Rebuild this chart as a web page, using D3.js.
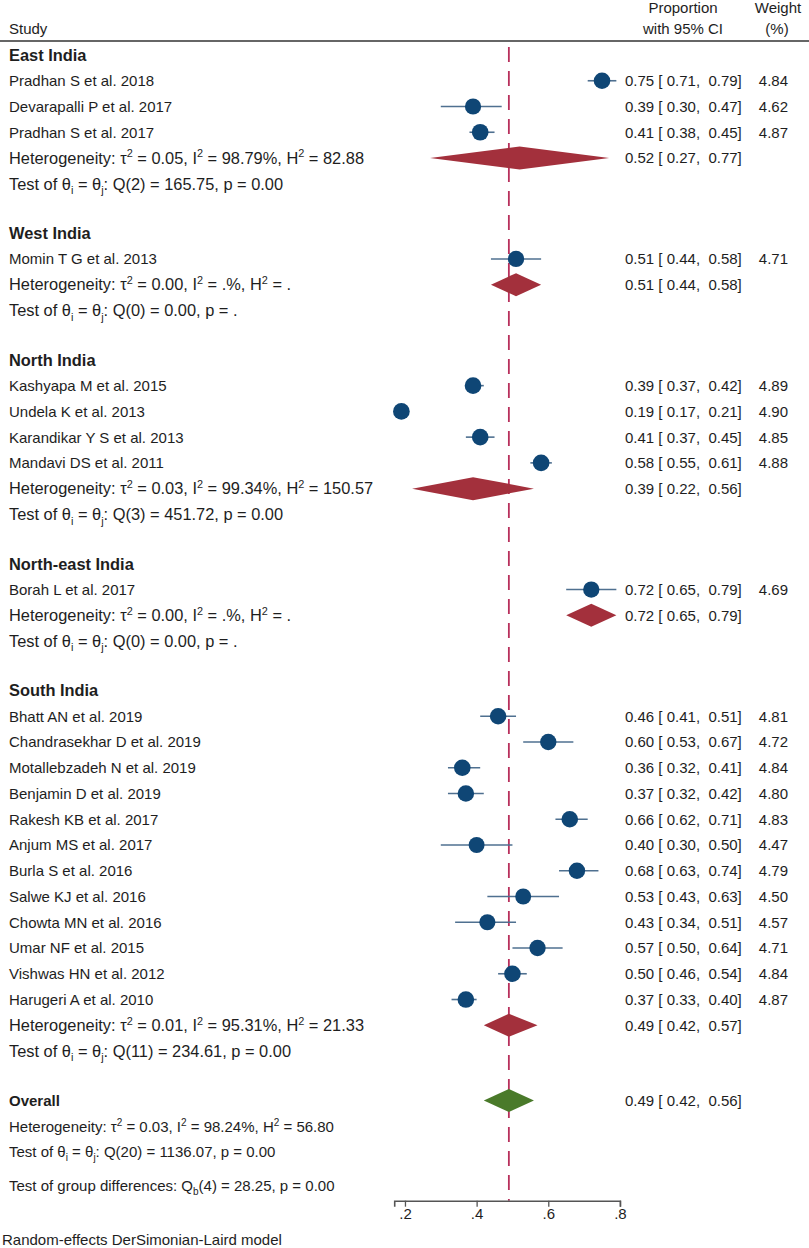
<!DOCTYPE html>
<html>
  <head>
    <meta charset="utf-8" />
    <title>Forest plot</title>
    <script src="https://d3js.org/d3.v7.min.js"></script>
    <style>
      body { margin: 0; background: #fff; }
      svg text { font-family: 'Liberation Sans', Arial, sans-serif; font-size: 15px; fill: #1e1e1e; white-space: pre; }
      svg text.big { font-size: 16.4px; }
      .bold { font-weight: bold; }
    </style>
  </head>
  <body>
    <svg width="809" height="1248"></svg>
    <script>
      // ---- data ----
      const groups = ['East India', 'West India', 'North India', 'North-east India', 'South India'];

      const studyNames = [
        'Pradhan S et al. 2018', 'Devarapalli P et al. 2017', 'Pradhan S et al. 2017',
        'Momin T G et al. 2013',
        'Kashyapa M et al. 2015', 'Undela K et al. 2013', 'Karandikar Y S et al. 2013', 'Mandavi DS et al. 2011',
        'Borah L et al. 2017',
        'Bhatt AN et al. 2019', 'Chandrasekhar D et al. 2019', 'Motallebzadeh N et al. 2019', 'Benjamin D et al. 2019',
        'Rakesh KB et al. 2017', 'Anjum MS et al. 2017', 'Burla S et al. 2016', 'Salwe KJ et al. 2016',
        'Chowta MN et al. 2016', 'Umar NF et al. 2015', 'Vishwas HN et al. 2012', 'Harugeri A et al. 2010',
      ];
      const studyGroup = [0, 0, 0, 1, 2, 2, 2, 2, 3, 4, 4, 4, 4, 4, 4, 4, 4, 4, 4, 4, 4];
      const studyEst = [0.75, 0.39, 0.41, 0.51, 0.39, 0.19, 0.41, 0.58, 0.72,
        0.46, 0.60, 0.36, 0.37, 0.66, 0.40, 0.68, 0.53, 0.43, 0.57, 0.50, 0.37];
      const studyLo = [0.71, 0.30, 0.38, 0.44, 0.37, 0.17, 0.37, 0.55, 0.65,
        0.41, 0.53, 0.32, 0.32, 0.62, 0.30, 0.63, 0.43, 0.34, 0.50, 0.46, 0.33];
      const studyHi = [0.79, 0.47, 0.45, 0.58, 0.42, 0.21, 0.45, 0.61, 0.79,
        0.51, 0.67, 0.41, 0.42, 0.71, 0.50, 0.74, 0.63, 0.51, 0.64, 0.54, 0.40];
      const studyWeight = [4.84, 4.62, 4.87, 4.71, 4.89, 4.90, 4.85, 4.88, 4.69,
        4.81, 4.72, 4.84, 4.80, 4.83, 4.47, 4.79, 4.50, 4.57, 4.71, 4.84, 4.87];

      const pooledEst = [0.52, 0.51, 0.39, 0.72, 0.49];
      const pooledLo = [0.27, 0.44, 0.22, 0.65, 0.42];
      const pooledHi = [0.77, 0.58, 0.56, 0.79, 0.57];
      const hetText = [
        'Heterogeneity: τ^{2} = 0.05, I^{2} = 98.79%, H^{2} = 82.88',
        'Heterogeneity: τ^{2} = 0.00, I^{2} = .%, H^{2} = .',
        'Heterogeneity: τ^{2} = 0.03, I^{2} = 99.34%, H^{2} = 150.57',
        'Heterogeneity: τ^{2} = 0.00, I^{2} = .%, H^{2} = .',
        'Heterogeneity: τ^{2} = 0.01, I^{2} = 95.31%, H^{2} = 21.33',
      ];
      const testText = [
        'Test of θ_{i} = θ_{j}: Q(2) = 165.75, p = 0.00',
        'Test of θ_{i} = θ_{j}: Q(0) = 0.00, p = .',
        'Test of θ_{i} = θ_{j}: Q(3) = 451.72, p = 0.00',
        'Test of θ_{i} = θ_{j}: Q(0) = 0.00, p = .',
        'Test of θ_{i} = θ_{j}: Q(11) = 234.61, p = 0.00',
      ];

      const overall = { est: 0.49, lo: 0.42, hi: 0.56 };
      const overallHet = 'Heterogeneity: τ^{2} = 0.03, I^{2} = 98.24%, H^{2} = 56.80';
      const overallTest = 'Test of θ_{i} = θ_{j}: Q(20) = 1136.07, p = 0.00';
      const groupDiffText = 'Test of group differences: Q_{b}(4) = 28.25, p = 0.00';

      const xTicks = [0.2, 0.4, 0.6, 0.8];

      // ---- layout ----
      const svg = d3.select('svg');
      const f2 = d3.format('.2f');
      const ciLabel = (e, l, h) => `${f2(e)} [ ${f2(l)},  ${f2(h)}]`;

      const xScale = d3.scaleLinear()
        .domain([d3.min(studyLo), 0.8])
        .range([333.3 + 358.3 * d3.min(studyLo), 333.3 + 358.3 * 0.8]);
      const yScale = d3.scaleLinear().domain([0, 1]).range([55, 80.75]);

      const leftX = 9;
      const ciX = 625;
      const wtX = 788;
      const axisY = 1200.7;

      // build rows (in row units)
      const rows = [];
      let pos = 0;
      groups.forEach((g, gi) => {
        rows.push({ type: 'header', text: g, pos: pos++, big: true });
        studyNames.forEach((n, i) => {
          if (studyGroup[i] === gi) rows.push({ type: 'study', i, text: n, pos: pos++ });
        });
        rows.push({ type: 'pooled', gi, text: hetText[gi], pos: pos++, big: true });
        rows.push({ type: 'note', text: testText[gi], pos: pos, big: true });
        pos += 1.92;
      });
      rows.push({ type: 'overall', text: 'Overall', pos: pos });
      rows.push({ type: 'note', text: overallHet, pos: pos + 1.03 });
      rows.push({ type: 'note', text: overallTest, pos: pos + 2.0 });
      rows.push({ type: 'note', text: groupDiffText, pos: pos + 3.3 });

      // text with ^{sup} and _{sub}
      function richText(sel, str, big) {
        const k = big ? 1.09 : 1;
        const parts = str.split(/(\^\{[^}]*\}|_\{[^}]*\})/).filter((p) => p.length);
        let shift = 0;
        parts.forEach((p) => {
          const t = sel.append('tspan');
          let target = 0;
          if (p.startsWith('^{')) { target = -6 * k; t.style('font-size', 10 * k + 'px').text(p.slice(2, -1)); }
          else if (p.startsWith('_{')) { target = 4 * k; t.style('font-size', 10 * k + 'px').text(p.slice(2, -1)); }
          else t.text(p);
          t.attr('dy', target - shift);
          shift = target;
        });
      }

      const base = (p) => yScale(p) + 5.4;

      // header
      svg.append('text').attr('x', leftX).attr('y', 33.5).text('Study');
      svg.append('text').attr('x', 683).attr('y', 12.8).attr('text-anchor', 'middle').text('Proportion');
      svg.append('text').attr('x', 683).attr('y', 33.5).attr('text-anchor', 'middle').text('with 95% CI');
      svg.append('text').attr('x', 778).attr('y', 12.8).attr('text-anchor', 'middle').text('Weight');
      svg.append('text').attr('x', 777).attr('y', 33.5).attr('text-anchor', 'middle').text('(%)');
      svg.append('line').attr('x1', 0).attr('x2', 809).attr('y1', 41).attr('y2', 41)
        .attr('stroke', '#333').attr('stroke-width', 1.3);

      // reference line at overall estimate
      svg.append('line')
        .attr('x1', xScale(overall.est)).attr('x2', xScale(overall.est))
        .attr('y1', 47).attr('y2', axisY)
        .attr('stroke', '#b8305c').attr('stroke-width', 1.8)
        .attr('stroke-dasharray', '15,9');

      // left labels
      rows.forEach((r) => {
        const t = svg.append('text').attr('x', leftX).attr('y', base(r.pos) + (r.big ? 0.4 : 0));
        const cls = [];
        if (r.type === 'header' || r.type === 'overall') cls.push('bold');
        if (r.big) cls.push('big');
        t.attr('class', cls.join(' '));
        richText(t, r.text, r.big);
      });

      // study marks
      const studyRows = rows.filter((r) => r.type === 'study');
      const g = svg.append('g');
      g.selectAll('line.ci').data(studyRows).enter().append('line')
        .attr('class', 'ci')
        .attr('x1', (d) => xScale(studyLo[d.i]))
        .attr('x2', (d) => xScale(studyHi[d.i]))
        .attr('y1', (d) => yScale(d.pos)).attr('y2', (d) => yScale(d.pos))
        .attr('stroke', '#4f7090').attr('stroke-width', 1.6);
      g.selectAll('circle').data(studyRows).enter().append('circle')
        .attr('cx', (d) => xScale(studyEst[d.i]))
        .attr('cy', (d) => yScale(d.pos))
        .attr('r', (d) => 3.77 * Math.sqrt(studyWeight[d.i]))
        .attr('fill', '#0f4675');

      svg.selectAll('text.ci').data(studyRows).enter().append('text')
        .attr('class', 'ci').attr('x', ciX).attr('y', (d) => base(d.pos))
        .text((d) => ciLabel(studyEst[d.i], studyLo[d.i], studyHi[d.i]));
      svg.selectAll('text.wt').data(studyRows).enter().append('text')
        .attr('class', 'wt').attr('x', wtX).attr('y', (d) => base(d.pos))
        .attr('text-anchor', 'end')
        .text((d) => f2(studyWeight[d.i]));

      // diamonds
      const diamond = (lo, est, hi, y) => {
        const h = 11.5;
        return `M${xScale(lo)},${y}L${xScale(est)},${y - h}L${xScale(hi)},${y}L${xScale(est)},${y + h}Z`;
      };
      const pooledRows = rows.filter((r) => r.type === 'pooled');
      svg.selectAll('path.pooled').data(pooledRows).enter().append('path')
        .attr('class', 'pooled')
        .attr('d', (d) => diamond(pooledLo[d.gi], pooledEst[d.gi], pooledHi[d.gi], yScale(d.pos)))
        .attr('fill', '#a3303c');
      svg.selectAll('text.pci').data(pooledRows).enter().append('text')
        .attr('class', 'pci').attr('x', ciX).attr('y', (d) => base(d.pos))
        .text((d) => ciLabel(pooledEst[d.gi], pooledLo[d.gi], pooledHi[d.gi]));

      const ovRow = rows.find((r) => r.type === 'overall');
      svg.append('path')
        .attr('d', diamond(overall.lo, overall.est, overall.hi, yScale(ovRow.pos)))
        .attr('fill', '#4a7a2a');
      svg.append('text').attr('x', ciX).attr('y', base(ovRow.pos))
        .text(ciLabel(overall.est, overall.lo, overall.hi));

      // x axis
      const axis = d3.axisBottom(xScale)
        .tickValues(xTicks)
        .tickSizeOuter(0)
        .tickSize(6)
        .tickFormat((v) => d3.format('.1f')(v).replace(/^0/, ''));
      const ax = svg.append('g').attr('transform', `translate(0,${axisY})`).call(axis);
      ax.select('.domain').attr('stroke', '#555').attr('stroke-width', 1.6);
      ax.selectAll('.tick line').attr('stroke', '#555').attr('stroke-width', 1.3);
      ax.selectAll('.tick text')
        .attr('y', 8).attr('dy', '0.71em')
        .style('font-size', '15px').attr('fill', '#1e1e1e')
        .style('font-family', "'Liberation Sans', Arial, sans-serif");

      svg.append('text').attr('x', 2).attr('y', 1245).text('Random-effects DerSimonian-Laird model');
    </script>
  </body>
</html>
